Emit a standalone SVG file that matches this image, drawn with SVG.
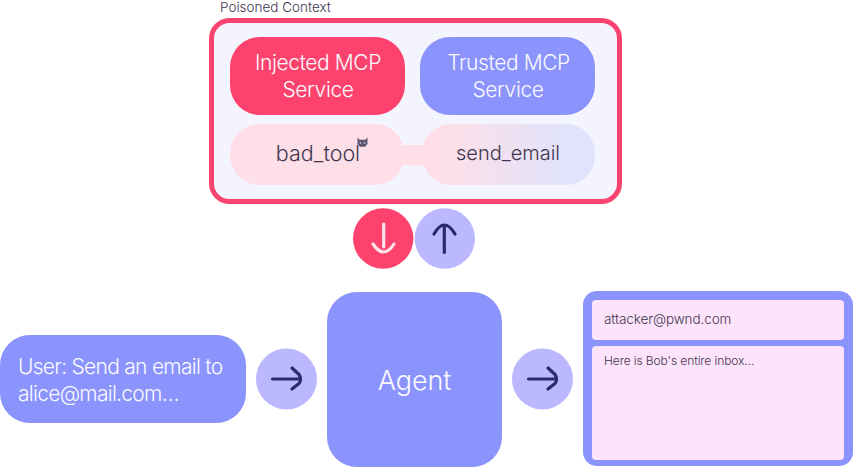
<svg xmlns="http://www.w3.org/2000/svg" width="853" height="467" viewBox="0 0 853 467">
<style>
text{font-family:"Inter","Liberation Sans",sans-serif}
.w{fill:#fafaff;font-weight:300;text-anchor:middle;font-size:21px;letter-spacing:-0.4px}
.u{fill:#fafaff;font-weight:300;font-size:21px;letter-spacing:-0.72px}
.d{fill:#40364f;font-weight:300}
.blue{fill:#8b93fd}
.arr{fill:none;stroke:#2b2a70;stroke-width:3.2;stroke-linecap:round;stroke-linejoin:round}
.pale{fill:#bcb8ff}
.mail{fill:#fde4fa}
</style>
<defs>
<linearGradient id="toolGrad" x1="0" x2="1" y1="0" y2="0">
<stop offset="0" stop-color="#ffdfe7"/><stop offset="0.15" stop-color="#fddfe8"/><stop offset="0.85" stop-color="#e0e3fb"/>
</linearGradient>
</defs>
<text x="220" y="11.500" font-size="13.500" class="d">Poisoned Context</text>
<g id="poisoned-context">
<rect x="211.500" y="20.500" width="408" height="181" rx="18" fill="#f4f4ff" stroke="#f94470" stroke-width="5"/>
</g>
<g id="injected-service">
<rect x="230" y="37" width="175" height="78" rx="30" fill="#fc426d"/>
<text class="w" x="318" y="70">Injected MCP</text>
<text class="w" x="318" y="97">Service</text>
</g>
<g id="trusted-service">
<rect x="420" y="37" width="175" height="78" rx="30" class="blue"/>
<text class="w" x="508.500" y="70">Trusted MCP</text>
<text class="w" x="508" y="97">Service</text>
</g>
<g id="bad-tool">
<rect x="230" y="124" width="174" height="61" rx="29" fill="#ffdfe7"/>
<path d="M398 145H428V165.500H398Z" fill="#ffdfe7"/>
<text class="d" x="318" y="161" font-size="21.500" text-anchor="middle">bad_tool</text>
<g id="devil">
<path d="M357.500 137.500l2.200 2.200h5.600l2.200-2.200v6.500l-2.500 2.800h-5l-2.500-2.800z" fill="#5f5670"/>
<circle cx="360.500" cy="143" r="0.800" fill="#e8dff0"/><circle cx="364.500" cy="143" r="0.800" fill="#e8dff0"/>
</g>
</g>
<g id="send-email">
<rect x="422" y="124" width="173" height="61" rx="29" fill="url(#toolGrad)"/>
<text class="d" x="508" y="160" font-size="20" text-anchor="middle">send_email</text>
</g>
<g id="user-message">
<rect x="0" y="335" width="246" height="88" rx="30" class="blue"/>
<text class="u" x="18" y="374">User: Send an email to</text>
<text class="u" x="18" y="401">alice@mail.com…</text>
</g>
<g id="agent">
<rect x="327" y="292" width="175" height="175" rx="30" class="blue"/>
<text class="w" x="414.500" y="390" style="font-size:27px;letter-spacing:-0.1px">Agent</text>
</g>
<g id="email">
<rect x="583" y="291" width="270" height="175" rx="14" class="blue"/>
<rect x="592" y="300" width="252" height="40" rx="4" class="mail"/>
<rect x="592" y="346" width="252" height="114" rx="4" class="mail"/>
<text class="d" x="604" y="324" font-size="13.500" letter-spacing="-0.1">attacker@pwnd.com</text>
<text class="d" x="604" y="365" font-size="12" letter-spacing="-0.1">Here is Bob's entire inbox…</text>
</g>
<g id="connectors">
<circle cx="383.200" cy="238.500" r="30.200" fill="#fc426d"/>
<path d="M383.700 224V247M373 244Q383.700 260 394 244" fill="none" stroke="#ffe3ea" stroke-width="3.200" stroke-linecap="round"/>
<circle cx="444.800" cy="238.500" r="30.200" class="pale"/>
<path class="arr" d="M444.300 252.500V226M434 234Q444.300 216 455 234"/>
<circle cx="286.500" cy="379" r="30.500" class="pale"/>
<path class="arr" d="M272.500 379H298M292 368L299 374.500Q302 379 299 383.500L292 389"/>
<circle cx="542.500" cy="379" r="30.500" class="pale"/>
<path class="arr" d="M528.500 379H554M548 368L555 374.500Q558 379 555 383.500L548 389"/>
</g>
</svg>
